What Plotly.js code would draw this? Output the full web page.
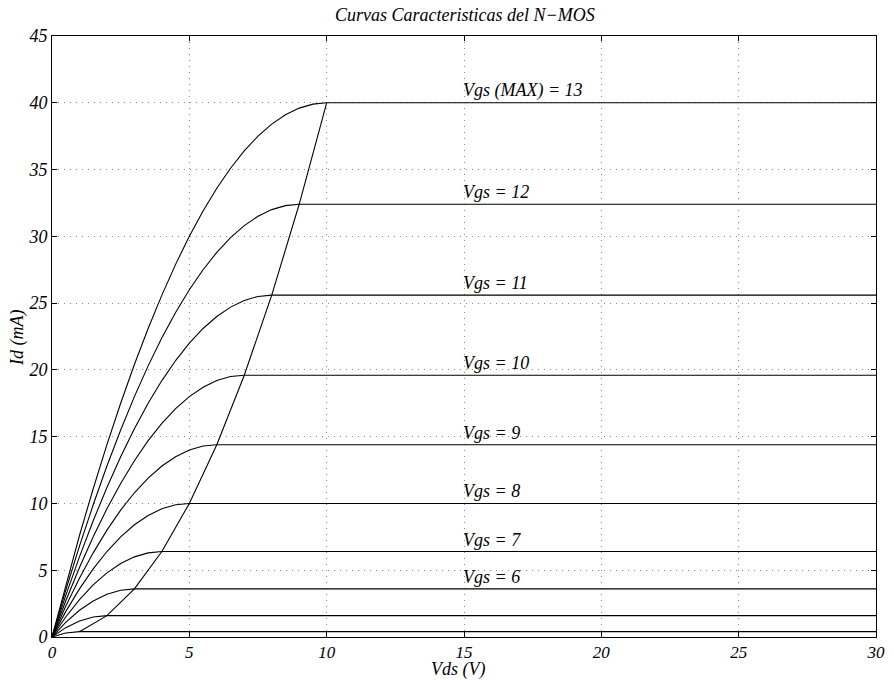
<!DOCTYPE html>
<html>
<head>
<meta charset="utf-8">
<script src="https://cdn.plot.ly/plotly-3.0.1.min.js"></script>
</head>
<body style="margin:0;padding:0;background:#fff">
<div id="chart" style="width:894px;height:680px"></div>
<script>
// Vds sample points (V)
const vds = [0,0.5,1,1.5,2,2.5,3,3.5,4,4.5,5,5.5,6,6.5,7,7.5,8,8.5,9,9.5,10,30];

// Id (mA) per Vgs curve, read at the vds points above
const id_vgs13 = [0,3.9,7.6,11.1,14.4,17.5,20.4,23.1,25.6,27.9,30,31.9,33.6,35.1,36.4,37.5,38.4,39.1,39.6,39.9,40,40];
const id_vgs12 = [0,3.5,6.8,9.9,12.8,15.5,18,20.3,22.4,24.3,26,27.5,28.8,29.9,30.8,31.5,32,32.3,32.4,32.4,32.4,32.4];
const id_vgs11 = [0,3.1,6,8.7,11.2,13.5,15.6,17.5,19.2,20.7,22,23.1,24,24.7,25.2,25.5,25.6,25.6,25.6,25.6,25.6,25.6];
const id_vgs10 = [0,2.7,5.2,7.5,9.6,11.5,13.2,14.7,16,17.1,18,18.7,19.2,19.5,19.6,19.6,19.6,19.6,19.6,19.6,19.6,19.6];
const id_vgs9  = [0,2.3,4.4,6.3,8,9.5,10.8,11.9,12.8,13.5,14,14.3,14.4,14.4,14.4,14.4,14.4,14.4,14.4,14.4,14.4,14.4];
const id_vgs8  = [0,1.9,3.6,5.1,6.4,7.5,8.4,9.1,9.6,9.9,10,10,10,10,10,10,10,10,10,10,10,10];
const id_vgs7  = [0,1.5,2.8,3.9,4.8,5.5,6,6.3,6.4,6.4,6.4,6.4,6.4,6.4,6.4,6.4,6.4,6.4,6.4,6.4,6.4,6.4];
const id_vgs6  = [0,1.1,2,2.7,3.2,3.5,3.6,3.6,3.6,3.6,3.6,3.6,3.6,3.6,3.6,3.6,3.6,3.6,3.6,3.6,3.6,3.6];
const id_vgs5  = [0,0.7,1.2,1.5,1.6,1.6,1.6,1.6,1.6,1.6,1.6,1.6,1.6,1.6,1.6,1.6,1.6,1.6,1.6,1.6,1.6,1.6];
const id_vgs4  = [0,0.3,0.4,0.4,0.4,0.4,0.4,0.4,0.4,0.4,0.4,0.4,0.4,0.4,0.4,0.4,0.4,0.4,0.4,0.4,0.4,0.4];

// saturation boundary
const sat_vds = [1,2,3,4,5,6,7,8,9,10];
const sat_id  = [0.4,1.6,3.6,6.4,10,14.4,19.6,25.6,32.4,40];

// curve labels
const label_text = ["Vgs (MAX) = 13","Vgs = 12","Vgs = 11","Vgs = 10","Vgs = 9","Vgs = 8","Vgs = 7","Vgs = 6"];
const label_y = [40,32.4,25.6,19.6,14.4,10,6.4,3.6];
const label_x = [15,15,15,15,15,15,15,15];

const xticks = [0,5,10,15,20,25,30];
const yticks = [0,5,10,15,20,25,30,35,40,45];

const curves = [id_vgs13,id_vgs12,id_vgs11,id_vgs10,id_vgs9,id_vgs8,id_vgs7,id_vgs6,id_vgs5,id_vgs4];
const FF = 'Liberation Serif';
const TXT = {family: FF, size: 18, style: 'italic', color: '#000'};
const TICK = {family: FF, size: 17, style: 'italic', color: '#000'};

const traces = curves.map(ys => ({
  x: vds, y: ys, type: 'scatter', mode: 'lines',
  line: {color: '#000', width: 1.1}, hoverinfo: 'skip', showlegend: false
}));
traces.push({x: sat_vds, y: sat_id, type: 'scatter', mode: 'lines',
  line: {color: '#000', width: 1.1}, hoverinfo: 'skip', showlegend: false});

const annotations = label_text.map((t, i) => ({
  x: label_x[i], y: label_y[i], xref: 'x', yref: 'y', text: t,
  showarrow: false, xanchor: 'left', yanchor: 'middle', yshift: 12, xshift: -3,
  font: TXT
}));
annotations.push({x: 0.4927, y: -0.0549, xref: 'paper', yref: 'paper', text: 'Vds (V)',
  showarrow: false, xanchor: 'center', yanchor: 'middle', font: TXT});
annotations.push({x: -0.042, y: 0.498, xref: 'paper', yref: 'paper', text: 'Id (mA)',
  showarrow: false, xanchor: 'center', yanchor: 'middle', textangle: -90, font: TXT});

const axisCommon = {
  showline: true, mirror: 'ticks', linecolor: '#000', linewidth: 1,
  ticks: 'inside', ticklen: 5, tickcolor: '#000', tickwidth: 1,
  showgrid: true, gridcolor: '#888', griddash: '1px,5px', gridwidth: 1,
  zeroline: false, fixedrange: true, automargin: false
};

const layout = {
  width: 894, height: 680,
  margin: {l: 52, r: 18, t: 36, b: 43},
  paper_bgcolor: '#fff', plot_bgcolor: '#fff',
  font: {family: FF, color: '#000'},
  title: {text: 'Curvas Caracteristicas del N\u2212MOS', x: 0.52, xanchor: 'center',
          y: 0.978, yref: 'container', yanchor: 'middle', font: TXT},
  xaxis: Object.assign({}, axisCommon, {
    range: [0, 30], tickvals: xticks, ticktext: xticks.map(String), tickfont: TICK
  }),
  yaxis: Object.assign({}, axisCommon, {
    range: [0, 45], tickvals: yticks, ticktext: yticks.map(String), tickfont: TXT
  }),
  annotations: annotations,
  showlegend: false
};

Plotly.newPlot('chart', traces, layout, {displayModeBar: false});
</script>
</body>
</html>
